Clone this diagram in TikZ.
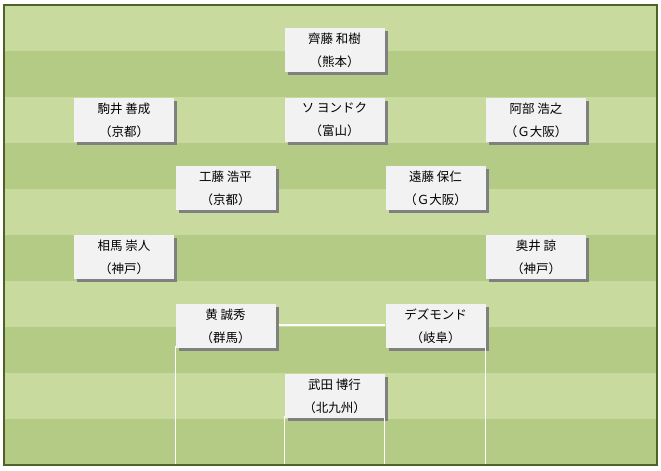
\documentclass[tikz,border=0pt]{standalone}
\usepackage{fontspec}
\setmainfont{Noto Sans CJK JP}
\usetikzlibrary{shadows}
\definecolor{lightturf}{HTML}{C8DA9E}
\definecolor{darkturf}{HTML}{B3CB84}
\definecolor{fieldedge}{HTML}{4F6228}
\definecolor{cardfill}{HTML}{F2F2F2}
\definecolor{cardshadow}{HTML}{808080}
\begin{document}
\begin{tikzpicture}[x=1bp,y=-1bp,
  player/.style={fill=cardfill, minimum width=100bp, minimum height=44bp,
    inner sep=0pt, align=center,
    font=\fontsize{12.5bp}{23bp}\selectfont,
    drop shadow={shadow xshift=3bp, shadow yshift=-3bp, fill=cardshadow, opacity=1}},
  pitchline/.style={draw=white, line width=1.5bp},
  lightband/.style={fill=lightturf},
  darkband/.style={fill=darkturf}]
\useasboundingbox (0,0) rectangle (661,471);
% turf stripes
\foreach \i in {0,2,4,6,8}
  \fill[lightband] (4,{5+46*\i}) rectangle (657,{5+46*(\i+1)});
\foreach \i in {1,3,5,7,9}
  \fill[darkband] (4,{5+46*\i}) rectangle (657,{5+46*(\i+1)});
\coordinate (pitchbottom) at (0,465);
% players
\node[player] (gk1) at (334.5,50.5) {齊藤 和樹\\（熊本）};
\node[player] (lw) at (124,120) {駒井 善成\\（京都）};
\node[player] (cf) at (334.5,120) {ソ ヨンドク\\（富山）};
\node[player] (rw) at (536,120) {阿部 浩之\\（Ｇ大阪）};
\node[player] (lm) at (225.5,188.5) {工藤 浩平\\（京都）};
\node[player] (rm) at (435.5,188.5) {遠藤 保仁\\（Ｇ大阪）};
\node[player] (lb) at (124,257) {相馬 崇人\\（神戸）};
\node[player] (rb) at (536,257) {奥井 諒\\（神戸）};
\node[player] (lcb) at (225.5,326) {黄 誠秀\\（群馬）};
\node[player] (rcb) at (435.5,326) {デズモンド\\（岐阜）};
\node[player] (gk) at (334.5,396) {武田 博行\\（北九州）};
% penalty area and goal area (visible parts around the cards)
\draw[pitchline] ([yshift=2bp]lcb.south west) -- (lcb.south west |- pitchbottom);
\draw[pitchline] ([yshift=2bp]rcb.south east) -- (rcb.south east |- pitchbottom);
\draw[pitchline] ([xshift=3bp,yshift=1bp]lcb.east) -- ([yshift=1bp]rcb.west);
\draw[pitchline] ([yshift=2bp]gk.south west) -- (gk.south west |- pitchbottom);
\draw[pitchline] ([yshift=2bp]gk.south east) -- (gk.south east |- pitchbottom);
% field border
\draw[fieldedge, line width=2bp] (4,5) rectangle (657,465);
\end{tikzpicture}
\end{document}
